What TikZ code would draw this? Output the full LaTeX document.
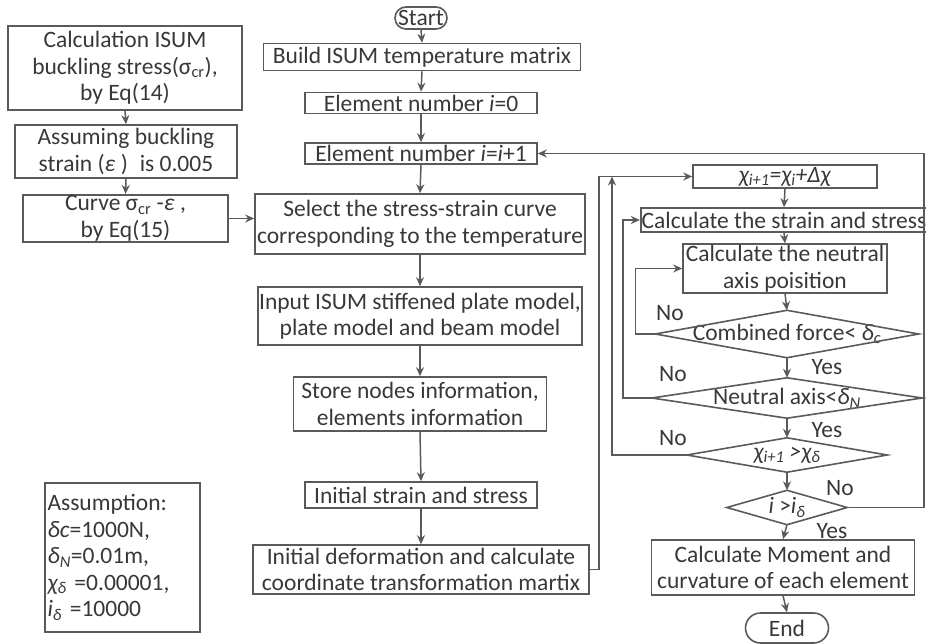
\documentclass[tikz,border=0pt]{standalone}
\usepackage{fontspec}
\setmainfont{Carlito}
\usetikzlibrary{arrows.meta}
\definecolor{fcline}{HTML}{5A5A5A}
\definecolor{fctext}{HTML}{383838}
\tikzset{FCbox/.style={draw=fcline,line width=1.6pt,inner sep=1pt,align=center,text=fctext},
         FCterm/.style={FCbox,rounded corners=11pt},
         FCdia/.style={inner sep=0pt,text=fctext},
         FCarr/.style={draw=fcline,line width=1.5pt,-{Stealth[length=9pt,width=8pt]}},
         FClab/.style={text=fctext,inner sep=0pt}}

\begin{document}
\begin{tikzpicture}[x=1pt,y=-1pt,font=\fontsize{23.5}{26.5}\selectfont]
  \useasboundingbox (0,0) rectangle (926,644);
  % buckling curve (left)
  \node[FCbox,minimum width=234pt,minimum height=84pt] (calc) at (125,68) {Calculation ISUM\\buckling stress(σ\textsubscript{cr}),\\by Eq(14)};
  \node[FCbox,minimum width=222pt,minimum height=53pt] (asm) at (126,151.5) {Assuming buckling\\strain (\textit{ε} )\; is 0.005};
  \node[FCbox,minimum width=205pt,minimum height=47pt] (crv) at (125.5,218.5) {Curve σ\textsubscript{cr} -\textit{ε} ,\\by Eq(15)};
  \node[FCbox,align=left,minimum width=155pt,minimum height=149pt,text width=150pt] (asp) at (122.5,557.5)
    {Assumption:\\\textit{δc}=1000N,\\\textit{δ}\textsubscript{\textit{N}}=0.01m,\\\textit{χ\textsubscript{δ}} =0.00001,\\\textit{i\textsubscript{δ}} =10000};
  % main column
  \node[FCterm,minimum width=52pt,minimum height=22pt] (start) at (421,18) {Start};
  \node[FCbox,minimum width=317pt,minimum height=27pt] (bld) at (422,57) {Build ISUM temperature matrix};
  \node[FCbox,minimum width=232pt,minimum height=21pt] (el0) at (421,103) {Element number \textit{i}=0};
  \node[FCbox,minimum width=232pt,minimum height=21pt] (el1) at (421,153.5) {Element number \textit{i}=\textit{i}+1};
  \node[FCbox,minimum width=330pt,minimum height=60pt] (sel) at (420,224) {Select the stress-strain curve\\corresponding to the temperature};
  \node[FCbox,minimum width=316pt,minimum height=58pt] (inp) at (420,316) {Input ISUM stiffened plate model,\\plate model and beam model};
  \node[FCbox,minimum width=253pt,minimum height=54pt] (sto) at (420,404) {Store nodes information,\\elements information};
  \node[FCbox,minimum width=232pt,minimum height=26pt] (ini) at (421,495) {Initial strain and stress};
  \node[FCbox,minimum width=336pt,minimum height=49pt] (def) at (421,569.5) {Initial deformation and calculate\\coordinate transformation martix};
  % iteration (right)
  \node[FCbox,minimum width=184pt,minimum height=23pt] (chi) at (785,176.5) {\textit{χ\textsubscript{i+1}=χ\textsubscript{i}+Δχ}};
  \node[FCbox,minimum width=286pt,minimum height=24pt] (ss) at (784,220) {Calculate the strain and stress};
  \node[FCbox,minimum width=204pt,minimum height=41pt] (nb) at (785,268.5) {Calculate the neutral\\axis poisition};
  \node[FCdia,minimum width=263pt,minimum height=47pt] (cf) at (787,334) {Combined force< \textit{δ}\textsubscript{\textit{c}}};
  \node[FCdia,minimum width=270pt,minimum height=40pt] (na) at (787,398) {Neutral axis<\textit{δ}\textsubscript{\textit{N}}};
  \node[FCdia,minimum width=200pt,minimum height=34pt] (cd) at (787,455) {\textit{χ\textsubscript{i+1} >χ\textsubscript{δ}}};
  \node[FCdia,minimum width=120pt,minimum height=34pt] (id) at (787,507.5) {\textit{i} >\textit{i}\textsubscript{\textit{δ}}};
  \node[FCbox,minimum width=263pt,minimum height=55pt] (mom) at (783,567.5) {Calculate Moment and\\curvature of each element};
  \node[FCterm,rounded corners=15pt,minimum width=83pt,minimum height=30pt] (end) at (787,628) {End};
  \foreach \d in {cf,na,cd,id}
    \draw[fcline,line width=1.6pt] (\d.north) -- (\d.east) -- (\d.south) -- (\d.west) -- cycle;
  % straight arrows
  \foreach \a/\b in {calc/asm,asm/crv,start/bld,bld/el0,el0/el1,el1/sel,sel/inp,inp/sto,sto/ini,ini/def,
                     chi/ss,ss/nb,nb/cf,cf/na,na/cd,cd/id,id/mom,mom/end}
    \draw[FCarr] (\a.south) -- (\b.north);
  \draw[FCarr] (crv.east) -- (crv.east -| sel.west);
  % loops
  \coordinate (jn) at (612,176.5);
  \coordinate (rt) at (924,153.5);
  \draw[FCarr] (def.east) -- ++(9,0) |- (chi.west);
  \draw[FCarr] (cd.west) -| (jn);
  \draw[FCarr] (na.west) -- ++(-29,0) |- (ss.west);
  \draw[FCarr] (cf.west) -- ++(-20,0) |- (nb.west);
  \draw[FCarr] (id.east) -| (rt) -- (el1.east);
  % branch labels
  \node[FClab] (no1) at (670,313) {No};
  \node[FClab] (ye1) at (827,367) {Yes};
  \node[FClab] (no2) at (673,374) {No};
  \node[FClab] (ye2) at (827,430) {Yes};
  \node[FClab] (no3) at (673,438) {No};
  \node[FClab] (no4) at (840,488) {No};
  \node[FClab] (ye3) at (832,531) {Yes};
\end{tikzpicture}
\end{document}
